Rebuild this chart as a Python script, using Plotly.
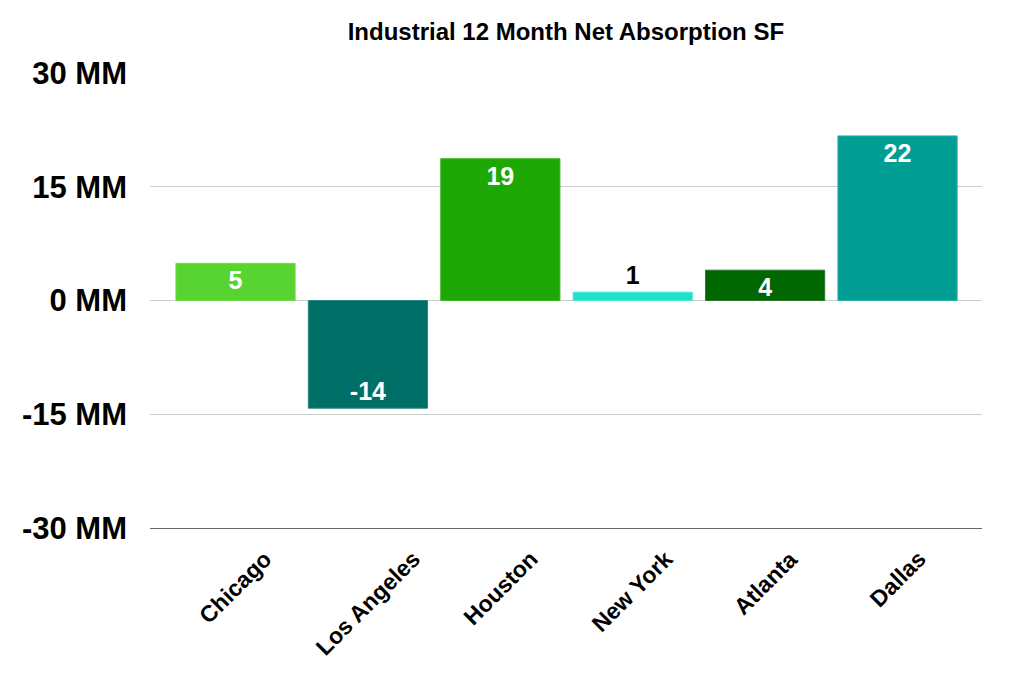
import plotly.graph_objects as go

cities = ["Chicago", "Los Angeles", "Houston", "New York", "Atlanta", "Dallas"]
absorption_mm = [4.9, -14.2, 18.7, 1.1, 4.0, 21.7]
bar_colors = ["#58D432", "#006F68", "#1EA806", "#1EE2C6", "#006600", "#009E92"]
edge_colors = ["#6CDC4A", "#2A8680", "#3AB426", "#4AE8D2", "#2A7A2A", "#2AAEA4"]
text_positions = ["inside", "inside", "inside", "outside", "inside", "inside"]
y_ticks = [-30, -15, 0, 15, 30]
y_tick_labels = ["-30 MM", "-15 MM", "0 MM", "15 MM", "30 MM"]

FONT = "Liberation Sans, Arial, Helvetica, sans-serif"

fig = go.Figure(
    go.Bar(
        x=cities,
        y=absorption_mm,
        marker=dict(color=bar_colors, line=dict(color=edge_colors, width=1)),
        width=0.9,
        texttemplate="%{y:.0f}",
        textposition=text_positions,
        textangle=0,
        insidetextanchor="end",
        insidetextfont=dict(color="white", size=25, family=FONT, weight="bold"),
        outsidetextfont=dict(color="black", size=25, family=FONT, weight="bold"),
        constraintext="none",
        cliponaxis=False,
        showlegend=False,
    )
)

# Category labels: rotated, centred under each bar, top edge aligned
for city in cities:
    fig.add_annotation(
        x=city,
        xref="x",
        y=0,
        yref="paper",
        yanchor="top",
        xanchor="center",
        yshift=-15,
        text=city,
        textangle=-45,
        showarrow=False,
        font=dict(family=FONT, size=23, color="black", weight="bold"),
    )

fig.update_layout(
    width=1022,
    height=674,
    margin=dict(l=150, r=40, t=73, b=146),
    paper_bgcolor="white",
    plot_bgcolor="white",
    title=dict(
        text="Industrial 12 Month Net Absorption SF",
        font=dict(family=FONT, size=24, color="black", weight="bold"),
        x=0.5537,
        xanchor="center",
        y=0.953,
        yanchor="middle",
    ),
    bargap=0.1,
)

fig.update_yaxes(
    range=[-30, 30],
    tickvals=y_ticks,
    ticktext=y_tick_labels,
    tickfont=dict(family=FONT, size=31, color="black", weight="bold"),
    showgrid=True,
    gridcolor="#CCCCCC",
    gridwidth=1,
    zeroline=True,
    zerolinecolor="#CCCCCC",
    zerolinewidth=1,
    showline=False,
    ticks="",
    ticklabelstandoff=22,
)

fig.update_xaxes(
    range=[-0.646, 5.638],
    showticklabels=False,
    showline=True,
    linecolor="#666666",
    linewidth=1,
    ticks="",
    showgrid=False,
)

fig.write_html("out.html")
